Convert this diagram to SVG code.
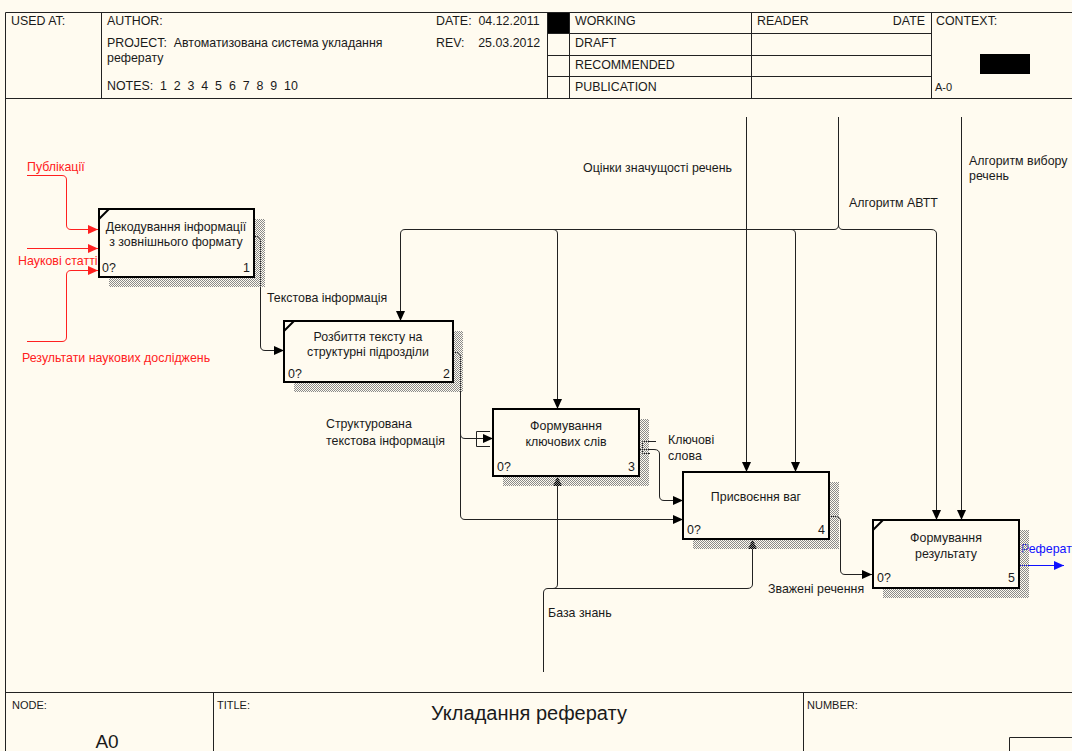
<svg xmlns="http://www.w3.org/2000/svg" width="1072" height="751" viewBox="0 0 1072 751">
<defs>
<style>
text{font-family:"Liberation Sans",Arial,sans-serif;font-size:12.4px;fill:#1a1a1a;white-space:pre}
.frame{fill:none;stroke:#222;stroke-width:1}
.box{fill:#FFFBF0;stroke:#000;stroke-width:2}
.shadow{fill:url(#hatch)}
.c{fill:none;stroke:#222;stroke-width:1}
.cr{fill:none;stroke:#ff2020;stroke-width:1}
.cb{fill:none;stroke:#1010ff;stroke-width:1}
.red{fill:#ff2020}
.blue{fill:#1010ff}
.mid{text-anchor:middle}
.end{text-anchor:end}
.small{font-size:11px}
</style>
<pattern id="hatch" width="2" height="2" patternUnits="userSpaceOnUse">
<rect x="0" y="0" width="1" height="1" fill="#8a8a8a"/>
<rect x="1" y="1" width="1" height="1" fill="#8a8a8a"/>
</pattern>
<marker id="a" markerWidth="11" markerHeight="9" refX="10" refY="4.5" orient="auto" markerUnits="userSpaceOnUse">
<path d="M0,0 L10,4.5 L0,9 z" fill="#000"/>
</marker>
<marker id="ar" markerWidth="11" markerHeight="9" refX="10" refY="4.5" orient="auto" markerUnits="userSpaceOnUse">
<path d="M0,0 L10,4.5 L0,9 z" fill="#ff2020"/>
</marker>
<marker id="ab" markerWidth="11" markerHeight="9" refX="10" refY="4.5" orient="auto" markerUnits="userSpaceOnUse">
<path d="M0,0 L10,4.5 L0,9 z" fill="#1010ff"/>
</marker>
</defs>
<rect x="0" y="0" width="1072" height="751" fill="#FFFBF0"/>

<g id="header">
<path class="frame" d="M5.5,12.5 H1072 M5.5,12.5 V751 M5.5,98.5 H1072 M101.5,12.5 V98.5 M547.5,12.5 V98.5 M569.5,12.5 V98.5 M751.5,12.5 V98.5 M931.5,12.5 V98.5 M547.5,33.5 H931.5 M547.5,55.5 H931.5 M547.5,76.5 H931.5"/>
<rect x="548" y="13" width="21" height="20" fill="#000"/>
<rect x="980" y="54" width="50" height="20" fill="#000"/>
<text x="11" y="25">USED AT:</text>
<text x="107" y="25">AUTHOR:</text>
<text x="107" y="47">PROJECT:  Автоматизована система укладання</text>
<text x="107" y="62">реферату</text>
<text x="107" y="90">NOTES:  1  2  3  4  5  6  7  8  9  10</text>
<text x="436" y="25">DATE:  04.12.2011</text>
<text x="436" y="47">REV:    25.03.2012</text>
<text x="575" y="25">WORKING</text>
<text x="575" y="47">DRAFT</text>
<text x="575" y="69">RECOMMENDED</text>
<text x="575" y="91">PUBLICATION</text>
<text x="757" y="25">READER</text>
<text x="925" y="25" class="end">DATE</text>
<text x="936" y="25">CONTEXT:</text>
<text x="935" y="91" class="small">A-0</text>
</g>

<g id="footer">
<path class="frame" d="M5.5,692.5 H1072 M213.5,692.5 V751 M803.5,692.5 V751 M1009.5,737.5 H1072 M1009.5,737.5 V751"/>
<text x="12" y="709" class="small">NODE:</text>
<text x="217" y="709" class="small">TITLE:</text>
<text x="807" y="709" class="small">NUMBER:</text>
<text x="107" y="748" class="mid" style="font-size:19px">A0</text>
<text x="529" y="720" class="mid" style="font-size:20px">Укладання реферату</text>
</g>

<g id="connectors">
<path class="cr" d="M27,175.5 H62 Q66.5,175.5 66.5,180 V225 Q66.5,229.5 71,229.5 H98" marker-end="url(#ar)"/>
<path class="cr" d="M27,248.5 H98" marker-end="url(#ar)"/>
<path class="cr" d="M27,341.5 H62 Q66.5,341.5 66.5,337 V275 Q66.5,270.5 71,270.5 H98" marker-end="url(#ar)"/>
<path class="c" d="M254,236.5 H256 Q260.5,236.5 260.5,241 V346 Q260.5,350.5 265,350.5 H284" marker-end="url(#a)"/>
<path class="c" d="M453,352.5 H456 Q460.5,352.5 460.5,357 V515 Q460.5,519.5 465,519.5 H683" marker-end="url(#a)"/>
<path class="c" d="M460.5,434 Q460.5,438.5 465,438.5 H493" marker-end="url(#a)"/>
<path class="c" d="M490,431.5 H476.5 V446.5 H490"/>
<path class="c" d="M639,449.5 H654 Q659.5,449.5 659.5,454 V496 Q659.5,500.5 664,500.5 H683" marker-end="url(#a)"/>
<path class="c" d="M642.5,441.5 H656 M642.5,441.5 V453.5 H650"/>
<path class="c" d="M829,516.5 H835 Q840.5,516.5 840.5,521 V570 Q840.5,574.5 845,574.5 H872" marker-end="url(#a)"/>
<path class="cb" d="M1019,565.5 H1064" marker-end="url(#ab)"/>
<path class="c" d="M746.5,117 V472" marker-end="url(#a)"/>
<path class="c" d="M838.5,117 V225 Q838.5,229.5 834,229.5 H405 Q400.5,229.5 400.5,234 V321" marker-end="url(#a)"/>
<path class="c" d="M838.5,225 Q838.5,229.5 843,229.5 H931 Q936.5,229.5 936.5,234 V520" marker-end="url(#a)"/>
<path class="c" d="M553,229.5 Q557.5,229.5 557.5,234 V409" marker-end="url(#a)"/>
<path class="c" d="M791,229.5 Q795.5,229.5 795.5,234 V472" marker-end="url(#a)"/>
<path class="c" d="M961.5,117 V520" marker-end="url(#a)"/>
<path class="c" d="M543.5,672 V593 Q543.5,588.5 548,588.5 H747 Q752.5,588.5 752.5,584 V539" marker-end="url(#a)"/>
<path class="c" d="M553,588.5 Q557.5,588.5 557.5,584 V476" marker-end="url(#a)"/>
</g>

<g id="labels">
<text x="27" y="171" class="red">Публікації</text>
<text x="18" y="265" class="red">Наукові статті</text>
<text x="22" y="362" class="red">Результати наукових досліджень</text>
<text x="267" y="302">Текстова інформація</text>
<text x="326" y="428">Структурована</text>
<text x="326" y="445">текстова інформація</text>
<text x="668" y="444">Ключові</text>
<text x="668" y="460">слова</text>
<text x="768" y="593">Зважені речення</text>
<text x="1021" y="553" class="blue">Реферат</text>
<text x="583" y="172">Оцінки значущості речень</text>
<text x="849" y="207">Алгоритм АВТТ</text>
<text x="969" y="165">Алгоритм вибору</text>
<text x="969" y="180">речень</text>
<text x="548" y="617">База знань</text>
</g>

<g id="box1">
<rect class="shadow" x="109" y="219" width="156" height="68"/>
<rect class="box" x="99" y="209" width="155" height="68"/>
<path d="M99,219 L109,209" stroke="#000" stroke-width="2"/>
<text x="176" y="231" class="mid">Декодування інформації</text>
<text x="176" y="246" class="mid">з зовнішнього формату</text>
<text x="102" y="272">0?</text>
<text x="250" y="272" class="end">1</text>
</g>

<g id="box2">
<rect class="shadow" x="294" y="331" width="169" height="61"/>
<rect class="box" x="284" y="321" width="169" height="61"/>
<path d="M284,331 L294,321" stroke="#000" stroke-width="2"/>
<text x="368" y="341" class="mid">Розбиття тексту на</text>
<text x="368" y="356" class="mid">структурні підрозділи</text>
<text x="288" y="378">0?</text>
<text x="450" y="378" class="end">2</text>
</g>

<g id="box3">
<rect class="shadow" x="503" y="419" width="146" height="67"/>
<rect class="box" x="493" y="409" width="146" height="67"/>
<text x="566" y="430" class="mid">Формування</text>
<text x="566" y="446" class="mid">ключових слів</text>
<text x="497" y="471">0?</text>
<text x="635" y="471" class="end">3</text>
</g>

<g id="box4">
<rect class="shadow" x="693" y="482" width="146" height="67"/>
<rect class="box" x="683" y="472" width="146" height="67"/>
<text x="756" y="501" class="mid">Присвоєння ваг</text>
<text x="687" y="534">0?</text>
<text x="825" y="534" class="end">4</text>
</g>

<g id="box5">
<rect class="shadow" x="883" y="530" width="146" height="68"/>
<rect class="box" x="873" y="520" width="146" height="68"/>
<path d="M873,530 L883,520" stroke="#000" stroke-width="2"/>
<text x="946" y="542" class="mid">Формування</text>
<text x="946" y="558" class="mid">результату</text>
<text x="877" y="582">0?</text>
<text x="1015" y="582" class="end">5</text>
</g>
</svg>
